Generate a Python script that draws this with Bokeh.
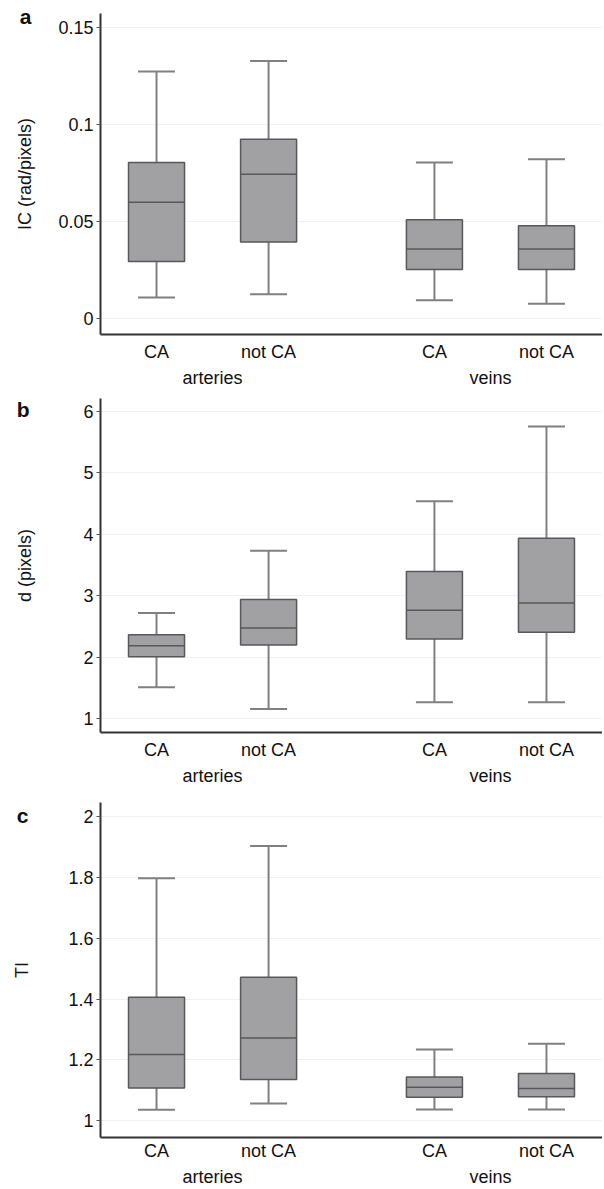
from bokeh.plotting import figure
from bokeh.models import FactorRange, Range1d, FixedTicker, LinearAxis, ColumnDataSource
from bokeh.transform import dodge
from bokeh.layouts import column
from bokeh.embed import file_html
from bokeh.resources import INLINE

groups = ["arteries", "arteries", "veins", "veins"]
subs = ["CA", "not CA", "CA", "not CA"]
factors = list(zip(groups, subs))

# Panel a: IC (rad/pixels)
ic_low = [0.0108, 0.0125, 0.0094, 0.0076]
ic_q1 = [0.0294, 0.0394, 0.0252, 0.0252]
ic_med = [0.0599, 0.0743, 0.0358, 0.0358]
ic_q3 = [0.0803, 0.0923, 0.0509, 0.0478]
ic_high = [0.1272, 0.1325, 0.0803, 0.0820]
ic_ticks = [0, 0.05, 0.1, 0.15]
ic_tick_labels = ["0", "0.05", "0.1", "0.15"]

# Panel b: d (pixels)
d_low = [1.514, 1.163, 1.27, 1.27]
d_q1 = [2.013, 2.204, 2.301, 2.409]
d_med = [2.192, 2.48, 2.767, 2.887]
d_q3 = [2.371, 2.941, 3.396, 3.938]
d_high = [2.724, 3.733, 4.54, 5.755]
d_ticks = [1, 2, 3, 4, 5, 6]
d_tick_labels = ["1", "2", "3", "4", "5", "6"]

# Panel c: TI
ti_low = [1.036, 1.057, 1.037, 1.037]
ti_q1 = [1.108, 1.136, 1.077, 1.079]
ti_med = [1.218, 1.272, 1.110, 1.106]
ti_q3 = [1.406, 1.472, 1.144, 1.155]
ti_high = [1.797, 1.903, 1.234, 1.253]
ti_ticks = [1, 1.2, 1.4, 1.6, 1.8, 2]
ti_tick_labels = ["1", "1.2", "1.4", "1.6", "1.8", "2"]

FONT = "Liberation Sans"
BOX_FILL = "#a1a1a4"
BOX_LINE = "#585858"
WHISK = "#808080"
AXIS = "#333333"


def make_panel(letter, ylabel, low, q1, med, q3, high, ticks, tick_labels,
               yrange, height, mb_left, mb_top, mb_bottom, label_standoff,
               letter_y, letter_standoff, x_tick_out):
    src = ColumnDataSource(dict(x=factors, low=low, q1=q1, med=med, q3=q3, high=high))
    p = figure(x_range=FactorRange(*factors, group_padding=0.48, range_padding=0),
               y_range=Range1d(*yrange), width=602, height=height,
               output_backend="svg", toolbar_location=None,
               min_border_left=mb_left, min_border_right=0,
               min_border_top=mb_top, min_border_bottom=mb_bottom)
    p.outline_line_color = None
    p.xgrid.grid_line_color = None
    p.ygrid.grid_line_color = "#f0f0f0"
    p.ygrid.ticker = FixedTicker(ticks=ticks)

    # whisker stems
    p.segment(x0="x", x1="x", y0="q3", y1="high", source=src, line_color=WHISK, line_width=2)
    p.segment(x0="x", x1="x", y0="low", y1="q1", source=src, line_color=WHISK, line_width=2)
    # caps
    p.segment(x0=dodge("x", -0.165, range=p.x_range), x1=dodge("x", 0.165, range=p.x_range),
              y0="high", y1="high", source=src, line_color=WHISK, line_width=2)
    p.segment(x0=dodge("x", -0.165, range=p.x_range), x1=dodge("x", 0.165, range=p.x_range),
              y0="low", y1="low", source=src, line_color=WHISK, line_width=2)
    # boxes
    p.vbar(x="x", bottom="q1", top="q3", width=0.5, source=src,
           fill_color=BOX_FILL, line_color=BOX_LINE, line_width=1.5)
    # medians
    p.segment(x0=dodge("x", -0.25, range=p.x_range), x1=dodge("x", 0.25, range=p.x_range),
              y0="med", y1="med", source=src, line_color=BOX_LINE, line_width=1.5)

    # y axis
    ya = p.yaxis[0]
    ya.ticker = FixedTicker(ticks=ticks)
    ya.major_label_overrides = {t: l for t, l in zip(ticks, tick_labels)}
    ya.minor_tick_line_color = None
    ya.major_tick_in = 0
    ya.major_tick_out = 4
    ya.major_tick_line_color = "#555555"
    ya.axis_line_color = AXIS
    ya.axis_line_width = 2
    ya.major_label_text_font = FONT
    ya.major_label_text_font_size = "18px"
    ya.major_label_text_color = "#111111"
    ya.major_label_standoff = 3
    ya.axis_label = ylabel
    ya.axis_label_text_font = FONT
    ya.axis_label_text_font_size = "18px"
    ya.axis_label_text_font_style = "normal"
    ya.axis_label_text_color = "#111111"
    ya.axis_label_standoff = label_standoff

    # panel letter, drawn as the only label of an outer, invisible axis
    la = LinearAxis(ticker=FixedTicker(ticks=[letter_y]),
                    major_label_overrides={letter_y: letter},
                    axis_line_color=None, major_tick_line_color=None,
                    minor_tick_line_color=None, major_tick_in=0, major_tick_out=0,
                    major_label_standoff=letter_standoff,
                    major_label_text_font=FONT, major_label_text_font_size="21px",
                    major_label_text_font_style="bold", major_label_text_color="#111111")
    p.add_layout(la, "left")

    # x axis
    xa = p.xaxis[0]
    xa.axis_line_color = AXIS
    xa.axis_line_width = 2
    xa.major_tick_line_color = None
    xa.major_tick_in = 0
    xa.major_tick_out = x_tick_out
    xa.minor_tick_line_color = None
    xa.major_label_text_font = FONT
    xa.major_label_text_font_size = "18px"
    xa.major_label_text_color = "#111111"
    xa.major_label_standoff = 3
    xa.group_text_font = FONT
    xa.group_text_font_size = "18px"
    xa.group_text_font_style = "normal"
    xa.group_text_color = "#111111"
    xa.separator_line_color = None
    return p


pa = make_panel("a", "IC (rad/pixels)", ic_low, ic_q1, ic_med, ic_q3, ic_high,
                ic_ticks, ic_tick_labels, (-0.0082, 0.157), 390, 100, 13, 56, 20,
                0.1557, -19, 4)
pb = make_panel("b", "d (pixels)", d_low, d_q1, d_med, d_q3, d_high,
                d_ticks, d_tick_labels, (0.78, 6.21), 398, 92, 8, 56, 45,
                6.03, -17, 4)
pc = make_panel("c", "TI", ti_low, ti_q1, ti_med, ti_q3, ti_high,
                ti_ticks, ti_tick_labels, (0.945, 2.046), 401, 91, 14, 52, 33,
                2.003, -19, 0)

layout = column(pa, pb, pc, spacing=0)
open("out.html", "w").write(file_html(layout, INLINE))
